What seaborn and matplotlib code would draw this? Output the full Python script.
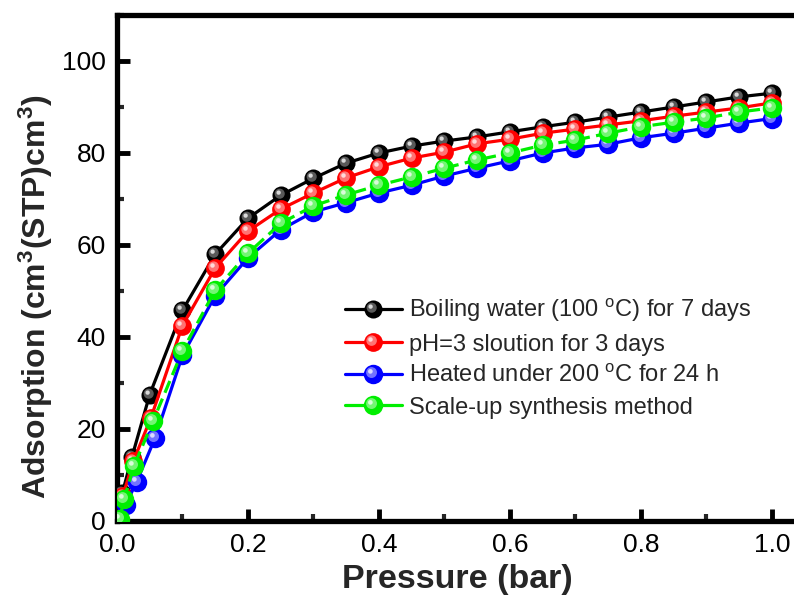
import matplotlib
matplotlib.use('Agg')
import numpy as np
import pandas as pd
import matplotlib.pyplot as plt
import seaborn as sns
import matplotlib.colors as mcolors
from matplotlib.path import Path
from matplotlib.lines import Line2D
from matplotlib.legend_handler import HandlerTuple
from matplotlib.ticker import MultipleLocator, FormatStrFormatter

# ---------------- data ----------------
labels = [
    r'Boiling water (100 $^\mathrm{o}$C) for 7 days',
    r'pH=3 sloution for 3 days',
    r'Heated under 200 $^\mathrm{o}$C for 24 h',
    r'Scale-up synthesis method',
]

p_black = [0.0, 0.008, 0.023, 0.05, 0.10, 0.15, 0.20, 0.25, 0.30, 0.35, 0.40, 0.45,
           0.50, 0.55, 0.60, 0.65, 0.70, 0.75, 0.80, 0.85, 0.90, 0.95, 1.00]
v_black = [0.3, 6.0, 14.0, 27.5, 45.8, 58.0, 65.8, 70.8, 74.5, 77.8, 80.0, 81.5,
           82.6, 83.5, 84.6, 85.7, 86.7, 87.8, 88.9, 90.0, 91.1, 92.2, 93.0]

p_red = [0.0, 0.009, 0.025, 0.052, 0.10, 0.15, 0.20, 0.25, 0.30, 0.35, 0.40, 0.45,
         0.50, 0.55, 0.60, 0.65, 0.70, 0.75, 0.80, 0.85, 0.90, 0.95, 1.00]
v_red = [0.3, 5.5, 13.0, 22.5, 42.5, 55.0, 63.0, 67.8, 71.3, 74.6, 77.0, 78.9,
         80.2, 82.0, 83.0, 84.3, 85.2, 86.1, 87.0, 88.0, 88.9, 89.8, 90.9]

p_blue = [0.0, 0.013, 0.030, 0.058, 0.10, 0.15, 0.20, 0.25, 0.30, 0.35, 0.40, 0.45,
          0.50, 0.55, 0.60, 0.65, 0.70, 0.75, 0.80, 0.85, 0.90, 0.95, 1.00]
v_blue = [0.2, 3.5, 8.5, 18.0, 36.0, 49.0, 57.2, 63.3, 67.2, 69.2, 71.3, 73.0,
          75.0, 76.7, 78.3, 80.0, 81.1, 81.9, 83.3, 84.3, 85.4, 86.5, 87.5]

p_green = [0.004, 0.011, 0.026, 0.055, 0.10, 0.15, 0.20, 0.25, 0.30, 0.35, 0.40, 0.45,
           0.50, 0.55, 0.60, 0.65, 0.70, 0.75, 0.80, 0.85, 0.90, 0.95, 1.00]
v_green = [0.5, 4.8, 12.0, 21.7, 37.0, 50.2, 58.2, 64.7, 68.5, 70.9, 73.0, 74.8,
           76.7, 78.5, 80.0, 81.7, 82.8, 84.3, 85.7, 86.7, 87.6, 88.9, 89.8]

x_ticks = [0.0, 0.2, 0.4, 0.6, 0.8, 1.0]
y_ticks = [0, 20, 40, 60, 80, 100]

series = [
    (p_black, v_black, '#000000', '-', 13.0),
    (p_red, v_red, '#ff0000', '-', 13.5),
    (p_blue, v_blue, '#0000ff', '-', 14.0),
    (p_green, v_green, '#00ee00', (0, (4, 2)), 14.0),
]

# ---------------- style ----------------
sns.set_theme(style='ticks')
plt.rcParams['font.family'] = ['Liberation Sans', 'DejaVu Sans']
plt.rcParams['mathtext.fontset'] = 'custom'
plt.rcParams['mathtext.rm'] = 'Liberation Sans'
plt.rcParams['mathtext.it'] = 'Liberation Sans:italic'
plt.rcParams['mathtext.bf'] = 'Liberation Sans:bold'

fig = plt.figure(figsize=(7.94, 5.98), dpi=100)
ax = fig.add_axes([117 / 794, 77 / 598, 681 / 794, 506 / 598])


def hl_marker(ox, oy, rr, D):
    """offset circle marker; returns (path, markersize) so the circle
    has radius rr*D and centre offset (ox, oy)*D in points."""
    circ = Path.circle((ox, oy), rr)
    a = np.max(np.abs(circ.vertices))
    return circ, 2 * a * D


def lighten(c, f):
    rgb = np.array(mcolors.to_rgb(c))
    return tuple(rgb + (1 - rgb) * f)


handles = []
for i, (px, vy, col, ls, ms) in enumerate(series):
    df = pd.DataFrame({'p': px, 'v': vy})
    sns.lineplot(data=df, x='p', y='v', ax=ax, color=col, lw=2.3, linestyle=ls,
                 marker='o', markersize=ms, markeredgewidth=0, estimator=None,
                 sort=False, legend=False, zorder=3 + i)
    m1, s1 = hl_marker(-0.10, 0.10, 0.28, ms)
    m2, s2 = hl_marker(-0.16, 0.16, 0.12, ms)
    f1 = 0.45 if col != '#000000' else 0.35
    ax.plot(px, vy, ls='none', marker=m1, markersize=s1, markeredgewidth=0,
            color=lighten(col, f1), zorder=3 + i + 0.3)
    ax.plot(px, vy, ls='none', marker=m2, markersize=s2, markeredgewidth=0,
            color=lighten(col, 0.85), zorder=3 + i + 0.4)
    h0 = Line2D([], [], color=col, lw=2.3, linestyle='-', marker='o', markersize=ms,
                markeredgewidth=0)
    h1 = Line2D([], [], ls='none', marker=m1, markersize=s1, markeredgewidth=0,
                color=lighten(col, f1))
    h2 = Line2D([], [], ls='none', marker=m2, markersize=s2, markeredgewidth=0,
                color=lighten(col, 0.85))
    handles.append((h0, h1, h2))

ax.set_xlim(0, 1.04)
ax.set_ylim(0, 110)
ax.set_xticks(x_ticks)
ax.set_yticks(y_ticks)
ax.xaxis.set_major_formatter(FormatStrFormatter('%.1f'))
ax.xaxis.set_minor_locator(MultipleLocator(0.1))
ax.yaxis.set_minor_locator(MultipleLocator(10))

for s in ['left', 'bottom', 'top']:
    ax.spines[s].set_linewidth(3.8)
    ax.spines[s].set_color('black')
ax.spines['right'].set_visible(False)

ax.tick_params(which='major', direction='in', length=9, width=3.5, labelsize=19,
               pad=8, colors='black', top=False, right=False)
ax.tick_params(which='minor', direction='in', length=5, width=3, top=False, right=False)
ax.tick_params(axis='x', which='major', pad=9)

ax.set_xlabel('Pressure (bar)', fontsize=24.5, fontweight='bold', labelpad=5)
ax.set_ylabel(r'Adsorption (cm$^\mathbf{3}$(STP)cm$^\mathbf{3}$)', fontsize=23,
              fontweight='bold')
ax.yaxis.set_label_coords(-0.091, 0.444)

ax.legend(handles, labels, handler_map={tuple: HandlerTuple(ndivide=1)},
          loc='upper left', bbox_to_anchor=(345 / 794, 1 - 297 / 598),
          bbox_transform=fig.transFigure, frameon=False, fontsize=17,
          handlelength=2.4, handletextpad=0.3, labelspacing=0.4,
          borderpad=0, borderaxespad=0, numpoints=1)

ax.set_facecolor('white')
fig.patch.set_facecolor('white')
fig.savefig('out.png', dpi=100)
